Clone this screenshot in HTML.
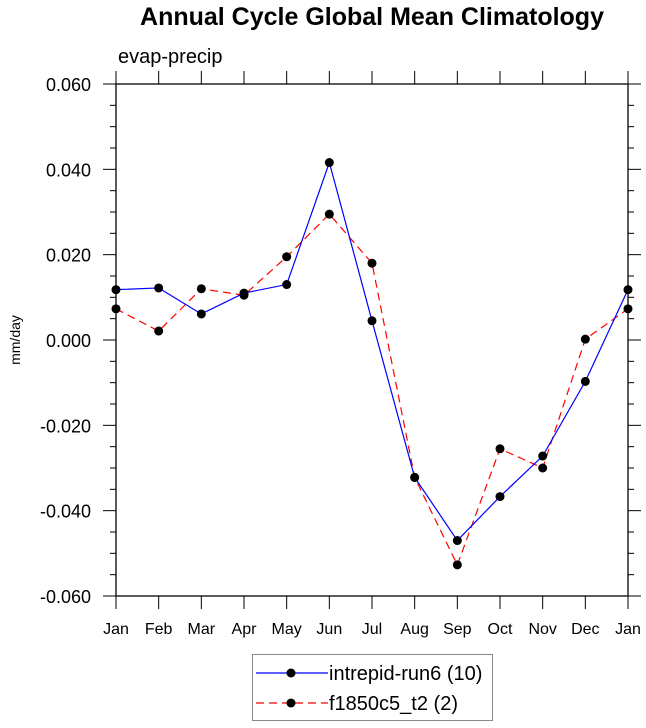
<!DOCTYPE html>
<html><head><meta charset="utf-8"><style>
body{margin:0;background:#fff;}
svg{display:block;font-family:"Liberation Sans",Arial,sans-serif;}
</style></head><body>
<svg id="chart" width="646" height="728">
<text x="372" y="25" text-anchor="middle" font-size="25" font-weight="bold">Annual Cycle Global Mean Climatology</text>
<text x="118" y="63" font-size="20">evap-precip</text>
<text transform="translate(20,340) rotate(-90)" text-anchor="middle" font-size="14">mm/day</text>
<g id="axes"></g>
<g id="series"></g>
<g>
<rect x="252.5" y="654.5" width="240" height="66" fill="#fff" stroke="#888" stroke-width="1"/>
<g>
<line x1="256" y1="673" x2="328" y2="673" stroke="#0000ff" stroke-width="1.2"/>
<circle cx="291" cy="673" r="4.5" fill="#000"/>
<text x="329" y="680" font-size="20">intrepid-run6 (10)</text></g>
<g>
<line x1="256" y1="703" x2="328" y2="703" stroke="#ff0000" stroke-width="1.2" stroke-dasharray="8,5"/>
<circle cx="291" cy="703" r="4.5" fill="#000"/>
<text x="329" y="710" font-size="20">f1850c5_t2 (2)</text></g>
</g>
</svg>
<script>
const months=["Jan","Feb","Mar","Apr","May","Jun","Jul","Aug","Sep","Oct","Nov","Dec","Jan"];
const intrepid=[0.0118,0.0122,0.0061,0.0110,0.0130,0.0416,0.0045,-0.0322,-0.0470,-0.0367,-0.0272,-0.0097,0.0118];
const f1850=[0.0073,0.0021,0.0120,0.0105,0.0195,0.0295,0.0180,-0.0322,-0.0527,-0.0255,-0.0300,0.0002,0.0073];
const yTicks=[0.06,0.04,0.02,0,-0.02,-0.04,-0.06];
const yTickLabels=["0.060","0.040","0.020","0.000","-0.020","-0.040","-0.060"];
const L=116,R=628,T=84,B=596,yMin=-0.06,yMax=0.06;
const NS="http://www.w3.org/2000/svg";
const xs=i=>L+(R-L)*i/(months.length-1);
const ys=v=>B-(v-yMin)/(yMax-yMin)*(B-T);
function mk(t,a,p){const e=document.createElementNS(NS,t);for(const k in a)e.setAttribute(k,a[k]);p.appendChild(e);return e;}
const ax=document.getElementById('axes');
const frame=mk('rect',{x:L,y:T,width:R-L,height:B-T,fill:'none',stroke:'#000','stroke-width':1.3},ax);


months.forEach((m,i)=>{
  const x=xs(i);
  mk('line',{x1:x,y1:B,x2:x,y2:B+13,stroke:'#000'},ax);
  mk('line',{x1:x,y1:T,x2:x,y2:T-13,stroke:'#000'},ax);
  const t=mk('text',{x:x,y:B+38,'text-anchor':'middle','font-size':16},ax);
  t.textContent=m;
  
  
});
for(let v=yMin;v<=yMax+1e-9;v+=0.005){
  const y=ys(v);const major=Math.abs(Math.round(v*1000)%20)===0;const len=major?13:6;
  mk('line',{x1:L-len,y1:y,x2:L,y2:y,stroke:'#000'},ax);
  mk('line',{x1:R,y1:y,x2:R+len,y2:y,stroke:'#000'},ax);
}
yTicks.forEach((v,i)=>{
  const t=mk('text',{x:L-25,y:ys(v)+7,'text-anchor':'end','font-size':18},ax);
  t.textContent=yTickLabels[i];
  
  
});
const sg=document.getElementById('series');
function series(vals,color,dash,name){
  const g=mk('g',{},sg);
  
  
  const pl=mk('polyline',{points:vals.map((v,i)=>xs(i)+','+ys(v)).join(' '),fill:'none',stroke:color,'stroke-width':1.2},g);
  if(dash)pl.setAttribute('stroke-dasharray',dash);
  vals.forEach((v,i)=>{
    const c=mk('circle',{cx:xs(i),cy:ys(v),r:4.5,fill:'#000'},g);
    
    
  });
}
series(f1850,'#ff0000','8,5','series-f1850c5');
series(intrepid,'#0000ff',null,'series-intrepid');
</script>
</body></html>
